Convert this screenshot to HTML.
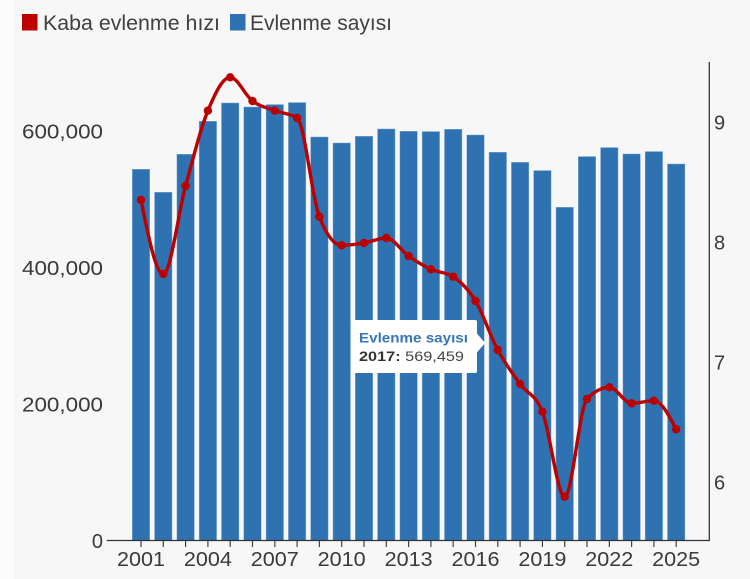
<!DOCTYPE html>
<html>
<head>
<meta charset="utf-8">
<style>
  html,body{margin:0;padding:0;background:#f7f7f7;}
  body{width:750px;height:579px;overflow:hidden;}
  svg{display:block;font-family:"Liberation Sans",Arial,sans-serif;}
</style>
</head>
<body>
<svg id="chart" width="750" height="579" viewBox="0 0 750 579" xmlns="http://www.w3.org/2000/svg">
  <rect x="0" y="0" width="750" height="579" fill="#f7f7f7"/>
  <rect x="0" y="0" width="13" height="579" fill="#fbfbfb"/>

  <!-- Legend -->
  <rect x="22" y="14" width="15.5" height="16.5" fill="#bb0000"/>
  <text x="43" y="30" font-size="21" fill="#404040" textLength="177" lengthAdjust="spacingAndGlyphs">Kaba evlenme hızı</text>
  <rect x="230" y="14" width="15.5" height="16.5" fill="#2e72b2"/>
  <text x="250" y="30" font-size="21" fill="#404040" textLength="142" lengthAdjust="spacingAndGlyphs">Evlenme sayısı</text>

  <!-- Left axis labels -->
  <g font-size="20" fill="#3a3a3a" text-anchor="end">
    <text x="103" y="138.7" textLength="81" lengthAdjust="spacingAndGlyphs">600,000</text>
    <text x="103" y="275.2" textLength="81" lengthAdjust="spacingAndGlyphs">400,000</text>
    <text x="103" y="411.7" textLength="81" lengthAdjust="spacingAndGlyphs">200,000</text>
    <text x="103" y="548">0</text>
  </g>

  <!-- Right axis labels -->
  <g font-size="20" fill="#3a3a3a">
    <text x="714" y="129.3">9</text>
    <text x="714" y="249.3">8</text>
    <text x="714" y="369.3">7</text>
    <text x="714" y="489.3">6</text>
  </g>

  <!-- Bars -->
  <g id="bars" fill="#2e72b2" stroke="rgba(255,255,255,0.45)" stroke-width="1"></g>

  <!-- Axes -->
  <line x1="106.7" y1="540.5" x2="709.3" y2="540.5" stroke="#333" stroke-width="1.3"/>
  <line x1="709.3" y1="62" x2="709.3" y2="541" stroke="#333" stroke-width="1.3"/>
  <g id="ticks" stroke="#444" stroke-width="1.2"></g>

  <!-- X labels -->
  <g id="xlabels" font-size="20" fill="#3a3a3a" text-anchor="middle"></g>

  <!-- Line -->
  <path id="line" d="" fill="none" stroke="#bb0000" stroke-width="3.4" stroke-linejoin="round" stroke-linecap="round"/>
  <g id="dots" fill="#bb0000"></g>

  <!-- Tooltip -->
  <g>
    <rect x="351" y="320" width="126" height="53" rx="2" fill="#ffffff"/>
    <polygon points="476.5,333 485,343 476.5,353" fill="#ffffff"/>
    <text x="359" y="342.5" font-size="13.5" font-weight="bold" fill="#3876ba" textLength="109" lengthAdjust="spacingAndGlyphs">Evlenme sayısı</text>
    <text x="359" y="361" font-size="14" fill="#444" textLength="105" lengthAdjust="spacingAndGlyphs"><tspan font-weight="bold" fill="#333">2017:</tspan> 569,459</text>
  </g>
</svg>
<script>
(function(){
  var NS="http://www.w3.org/2000/svg";
  var tops=[169,192,154,121,102.7,106.7,104.3,102.3,136.7,142.7,136,128.7,131,131.3,129,134.7,152,162,170.3,207,156.3,147.3,153.7,151.3,163.7];
  var ly=[200,274,186,110.7,77.3,101,110.7,118,216.7,245.3,243,238,256,269.3,276.7,301,350,384,411.7,496.7,399,387.3,403.3,400.7,429.3];
  var n=25, xs=[];
  for(var i=0;i<n;i++){xs.push(141+i*22.3);}
  var bars=document.getElementById("bars");
  var ticks=document.getElementById("ticks");
  var xl=document.getElementById("xlabels");
  for(var i=0;i<n;i++){
    var r=document.createElementNS(NS,"rect");
    r.setAttribute("x",(xs[i]-9).toFixed(2));
    r.setAttribute("y",tops[i]);
    r.setAttribute("width",18);
    r.setAttribute("height",(540.5-tops[i]).toFixed(2));
    bars.appendChild(r);
    var t=document.createElementNS(NS,"line");
    t.setAttribute("x1",xs[i]);t.setAttribute("x2",xs[i]);
    t.setAttribute("y1",541);t.setAttribute("y2",547);
    ticks.appendChild(t);
    if(i%3===0){
      var tx=document.createElementNS(NS,"text");
      tx.setAttribute("x",xs[i]);
      tx.setAttribute("y",566);
      tx.setAttribute("textLength",48);
      tx.setAttribute("lengthAdjust","spacingAndGlyphs");
      tx.textContent=String(2001+i);
      xl.appendChild(tx);
    }
  }
  var m=new Array(n);
  for(var i=1;i<n-1;i++){
    var h0=xs[i]-xs[i-1],h1=xs[i+1]-xs[i];
    var s0=(ly[i]-ly[i-1])/h0,s1=(ly[i+1]-ly[i])/h1;
    var p=(s0*h1+s1*h0)/(h0+h1);
    m[i]=(Math.sign(s0)+Math.sign(s1))*Math.min(Math.abs(s0),Math.abs(s1),0.5*Math.abs(p))||0;
  }
  m[0]=(3*(ly[1]-ly[0])/(xs[1]-xs[0])-m[1])/2;
  m[n-1]=(3*(ly[n-1]-ly[n-2])/(xs[n-1]-xs[n-2])-m[n-2])/2;
  var d="M"+xs[0]+","+ly[0];
  for(var i=0;i<n-1;i++){
    var dx=(xs[i+1]-xs[i])/3;
    d+="C"+(xs[i]+dx).toFixed(2)+","+(ly[i]+dx*m[i]).toFixed(2)+" "+(xs[i+1]-dx).toFixed(2)+","+(ly[i+1]-dx*m[i+1]).toFixed(2)+" "+xs[i+1].toFixed(2)+","+ly[i+1];
  }
  document.getElementById("line").setAttribute("d",d);
  var dots=document.getElementById("dots");
  for(var i=0;i<n;i++){
    var c=document.createElementNS(NS,"circle");
    c.setAttribute("cx",xs[i]);c.setAttribute("cy",ly[i]);c.setAttribute("r",4.2);
    dots.appendChild(c);
  }
})();
</script>
</body>
</html>
